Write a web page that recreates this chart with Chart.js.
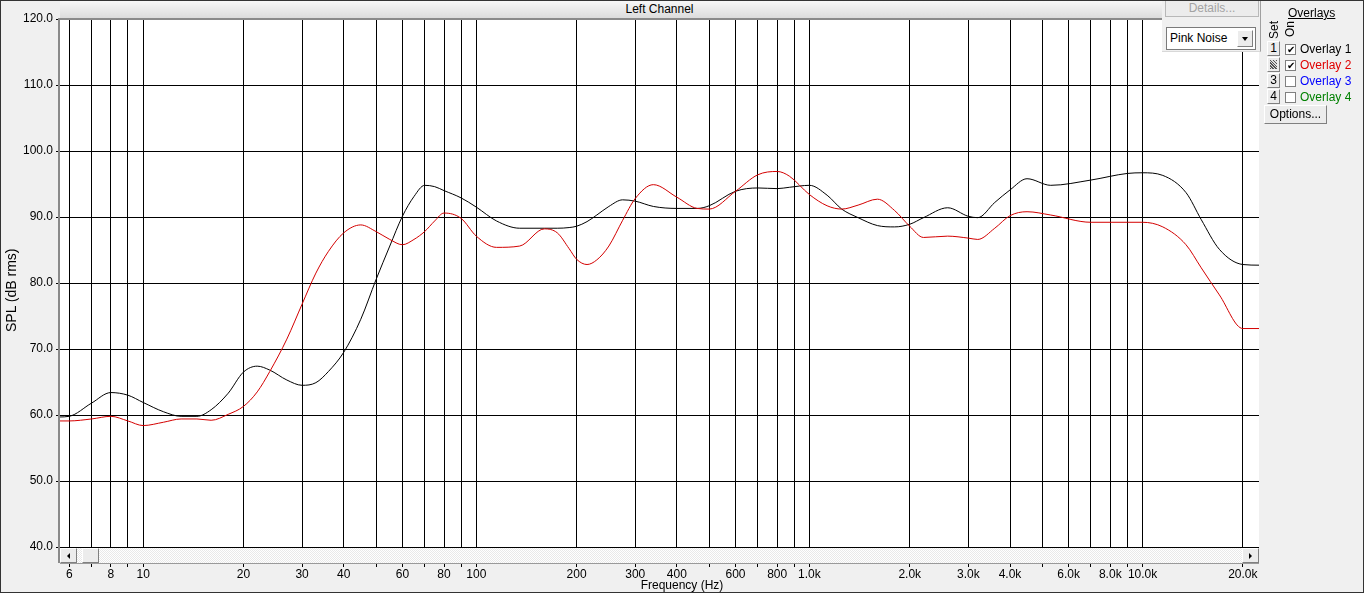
<!DOCTYPE html>
<html lang="en">
<head>
    <meta charset="UTF-8">
    <title>Left Channel</title>
    <script src="https://cdn.jsdelivr.net/npm/chart.js@4.4.1/dist/chart.umd.min.js"></script>
    <style>
        html, body {
            margin: 0;
            padding: 0;
            background: #f0f0f0;
            font-family: "Liberation Sans", Arial, sans-serif;
            font-size: 12px;
        }
        #wrap {
            position: relative;
            width: 1364px;
            height: 593px;
            overflow: hidden;
        }
        #spl {
            position: absolute;
            left: 0;
            top: 0;
            background: #f0f0f0;
        }
        .abs { position: absolute; }
        #frame {
            position: absolute; left: 0; top: 0;
            width: 1364px; height: 593px;
            box-sizing: border-box;
            border: 1px solid #333;
            pointer-events: none;
        }
        #header {
            left: 60px; top: 1px; width: 1199px; height: 17px;
            background: linear-gradient(#f7f7f7, #dcdcdc);
            text-align: center; line-height: 17px; color: #000;
        }
        #details {
            left: 1162px; top: 0; width: 98px; height: 51px;
            background: #f0f0f0;
            border-right: 1px solid #a0a0a0;
            border-bottom: 1px solid #d8d8d8;
        }
        .btn {
            position: absolute;
            box-sizing: border-box;
            background: #ececec;
            border-top: 1px solid #fff;
            border-left: 1px solid #fff;
            border-right: 1px solid #808080;
            border-bottom: 1px solid #808080;
            text-align: center;
            color: #000;
        }
        #detailsBtn { left: 3px; top: 0; width: 94px; height: 17px; line-height: 14px; color: #a3a3a3; border: 1px solid #b8b8b8; }
        #noise {
            left: 1166px; top: 27px; width: 90px; height: 23px;
            box-sizing: border-box;
            background: #fff;
            border: 1px solid #7a7a7a;
            line-height: 21px; padding-left: 3px; color: #000;
        }
        #noise .btn { right: 2px; top: 2px; width: 16px; height: 17px; }
        .tri-down {
            position: absolute; left: 4px; top: 6px;
            border-left: 3px solid transparent; border-right: 3px solid transparent;
            border-top: 4px solid #000;
        }
        #ovTitle { left: 1288px; top: 6px; text-decoration: underline; }
        .vert {
            position: absolute;
            writing-mode: vertical-rl;
            transform: rotate(180deg);
            line-height: 12px;
        }
        #ytitle {
            left: 4px; top: 248px; height: 84px;
            font-size: 14px; line-height: 14px; text-align: center;
        }
        .num { width: 13px; height: 15px; line-height: 13px; }
        .chk {
            position: absolute; box-sizing: border-box;
            width: 11px; height: 11px;
            background: #fff; border: 1px solid #808080;
            font-size: 10px; line-height: 9px; text-align: center; color: #000;
        }
        .ovl { position: absolute; left: 1300px; }
        #scroll {
            left: 60px; top: 548px; width: 1199px; height: 15px;
            background: repeating-conic-gradient(#ffffff 0 25%, #e9e9e9 0 50%) 0 0 / 2px 2px;
            border-bottom: 1px solid #9a9a9a;
        }
        .tri-left {
            position: absolute; left: 6px; top: 4px;
            border-top: 3px solid transparent; border-bottom: 3px solid transparent;
            border-right: 3px solid #000;
        }
        .tri-right {
            position: absolute; left: 6px; top: 4px;
            border-top: 3px solid transparent; border-bottom: 3px solid transparent;
            border-left: 3px solid #000;
        }
        #xtitle { left: 0; top: 578px; width: 1364px; text-align: center; }
    </style>
</head>
<body>
    <div id="wrap">
        <canvas id="spl" width="1364" height="593"></canvas>

        <div id="header" class="abs">Left Channel</div>
        <div id="details" class="abs">
            <div id="detailsBtn" class="btn">Details...</div>
        </div>
        <div id="noise" class="abs">Pink Noise<div class="btn"><div class="tri-down"></div></div></div>

        <div id="ovTitle" class="abs">Overlays</div>
        <div class="vert" style="left:1268px; top:21px;">Set</div>
        <div class="vert" style="left:1284px; top:21px;">On</div>
        <div id="ovRows"></div>
        <div class="btn" style="left:1264px; top:105px; width:63px; height:19px; line-height:17px;">Options...</div>

        <div id="scroll" class="abs">
            <div class="btn" style="left:0; top:0; width:17px; height:15px;"><div class="tri-left"></div></div>
            <div class="btn" style="left:22px; top:0; width:17px; height:15px;"></div>
            <div class="btn" style="right:0; top:0; width:17px; height:15px;"><div class="tri-right"></div></div>
        </div>
        <div id="ytitle" class="vert">SPL (dB rms)</div>
        <div id="xtitle" class="abs">Frequency (Hz)</div>
        <div id="frame"></div>
    </div>

    <script>
        // frequency points (Hz)
        const freqs = [5.6, 6, 7, 8, 9, 10, 11.5, 13, 14.5, 16, 18, 20, 22, 24, 27, 30, 33, 36, 40, 45,
            50, 55, 60, 65, 70, 75, 80, 90, 100, 115, 135, 160, 175, 190, 200, 215, 230, 250, 275, 300,
            340, 400, 460, 500, 600, 700, 800, 870, 1000, 1130, 1250, 1400, 1600, 1800, 2000, 2200, 2600, 3000,
            3200, 3600, 4000, 4500, 5300, 7000, 9000, 10000, 11500, 13500, 15000, 17000, 20000, 22400];

        // Overlay 1 (black), dB
        const overlay1 = [59.7, 59.8, 61.8, 63.4, 63.0, 61.9, 60.5, 59.8, 59.8, 60.8, 63.3, 66.5, 67.4, 66.8, 65.3, 64.5, 64.9, 66.6, 69.5, 74.5,
            80.5, 85.6, 90.1, 93.1, 94.8, 94.6, 94.0, 92.9, 91.5, 89.4, 88.3, 88.3, 88.3, 88.4, 88.6, 89.3, 90.3, 91.6, 92.6, 92.4,
            91.6, 91.3, 91.3, 91.7, 93.9, 94.4, 94.3, 94.5, 94.8, 93.3, 91.2, 89.9, 88.7, 88.5, 88.9, 89.9, 91.4, 90.1,
            89.9, 92.2, 94.1, 95.8, 94.8, 95.6, 96.6, 96.7, 96.3, 93.7, 89.6, 85.1, 82.8, 82.7];

        // Overlay 2 (red), dB
        const overlay2 = [59.1, 59.1, 59.4, 59.8, 59.1, 58.4, 58.9, 59.4, 59.4, 59.2, 60.1, 61.3, 63.5, 66.6, 71.5, 76.8, 81.5, 84.8, 87.6, 88.8,
            87.8, 86.6, 85.8, 86.6, 87.8, 89.4, 90.6, 89.8, 87.1, 85.4, 85.6, 88.2, 87.6, 85.2, 83.6, 82.8, 83.5, 85.6, 89.5, 92.8,
            94.9, 93.0, 91.3, 91.2, 93.9, 96.4, 96.9, 96.2, 93.4, 91.7, 91.2, 91.8, 92.7, 91.0, 88.6, 86.9, 87.1, 86.8,
            86.6, 88.3, 90.2, 90.8, 90.3, 89.2, 89.2, 89.2, 88.5, 85.8, 82.3, 78.2, 73.1, 73.1];

        const xTickValues = [6, 7, 8, 9, 10, 20, 30, 40, 50, 60, 70, 80, 90, 100, 200, 300, 400, 500, 600, 700, 800, 900,
            1000, 2000, 3000, 4000, 5000, 6000, 7000, 8000, 9000, 10000, 20000];
        const xTickLabels = ['6', '', '8', '', '10', '20', '30', '40', '', '60', '', '80', '', '100', '200', '300', '400', '', '600', '', '800', '',
            '1.0k', '2.0k', '3.0k', '4.0k', '', '6.0k', '', '8.0k', '', '10.0k', '20.0k'];

        const overlayNames = ['Overlay 1', 'Overlay 2', 'Overlay 3', 'Overlay 4'];
        const overlayColors = ['#000000', '#e00000', '#0000ff', '#008000'];
        const overlayOn = [true, true, false, false];

        // right side overlay list
        var rows = '';
        overlayNames.forEach(function (name, i) {
            var y = 41 + i * 16;
            var face = i === 1
                ? '<div style="position:absolute;left:2px;top:2px;width:7px;height:9px;background:repeating-linear-gradient(45deg,#555 0 1px,#ddd 1px 2px);"></div>'
                : (i + 1);
            rows += '<div class="btn num" style="left:1267px; top:' + y + 'px;">' + face + '</div>';
            rows += '<div class="chk" style="left:1285px; top:' + (y + 3) + 'px;">' + (overlayOn[i] ? '&#10004;' : '') + '</div>';
            rows += '<div class="ovl" style="top:' + (y + 1) + 'px; color:' + overlayColors[i] + ';">' + name + '</div>';
        });
        document.getElementById('ovRows').innerHTML = rows;

        const plotBg = {
            id: 'plotBg',
            beforeDraw(chart) {
                const a = chart.chartArea, ctx = chart.ctx;
                ctx.save();
                ctx.fillStyle = '#ffffff';
                ctx.fillRect(a.left, a.top, a.right - a.left, a.bottom - a.top);
                ctx.restore();
            },
            afterDraw(chart) {
                const a = chart.chartArea, ctx = chart.ctx;
                ctx.save();
                ctx.fillStyle = '#8a8a8a';
                ctx.fillRect(a.left - 1, a.top - 1, 2, 564 - a.top);
                ctx.fillRect(a.left - 1, a.top - 1, a.right - a.left + 1, 2);
                ctx.restore();
            }
        };

        const tickFont = { family: '"Liberation Sans", Arial, sans-serif', size: 12 };

        var ctx = document.getElementById('spl').getContext('2d');
        var splChart = new Chart(ctx, {
            type: 'line',
            data: {
                datasets: [
                    { label: 'Overlay 2', data: freqs.map((f, i) => ({ x: f, y: overlay2[i] })), borderColor: '#d40000', borderWidth: 1, fill: false },
                    { label: 'Overlay 1', data: freqs.map((f, i) => ({ x: f, y: overlay1[i] })), borderColor: '#000000', borderWidth: 1, fill: false }
                ]
            },
            options: {
                responsive: false,
                animation: false,
                layout: { padding: { left: 0, top: 19, right: 105, bottom: 0 } },
                elements: { point: { radius: 0 }, line: { cubicInterpolationMode: 'monotone' } },
                plugins: { legend: { display: false }, tooltip: { enabled: false } },
                scales: {
                    x: {
                        type: 'logarithmic',
                        min: 5.59,
                        max: 22360,
                        afterBuildTicks: s => { s.ticks = xTickValues.map(v => ({ value: v })); },
                        afterFit: s => { s.height = 46; },
                        border: { display: false },
                        grid: { color: '#000', lineWidth: 1, tickLength: 20, tickColor: '#000' },
                        ticks: {
                            autoSkip: false, maxRotation: 0, minRotation: 0, padding: 0,
                            color: '#000', font: tickFont,
                            callback: (v, i) => xTickLabels[i]
                        }
                    },
                    y: {
                        min: 40,
                        max: 120,
                        afterFit: s => { s.width = 59; },
                        border: { display: false },
                        grid: { color: '#000', lineWidth: 1, tickLength: 3, tickColor: '#000' },
                        ticks: { stepSize: 10, padding: 3, color: '#000', font: tickFont, callback: v => v.toFixed(1) }
                    }
                }
            },
            plugins: [plotBg]
        });
    </script>
</body>
</html>
